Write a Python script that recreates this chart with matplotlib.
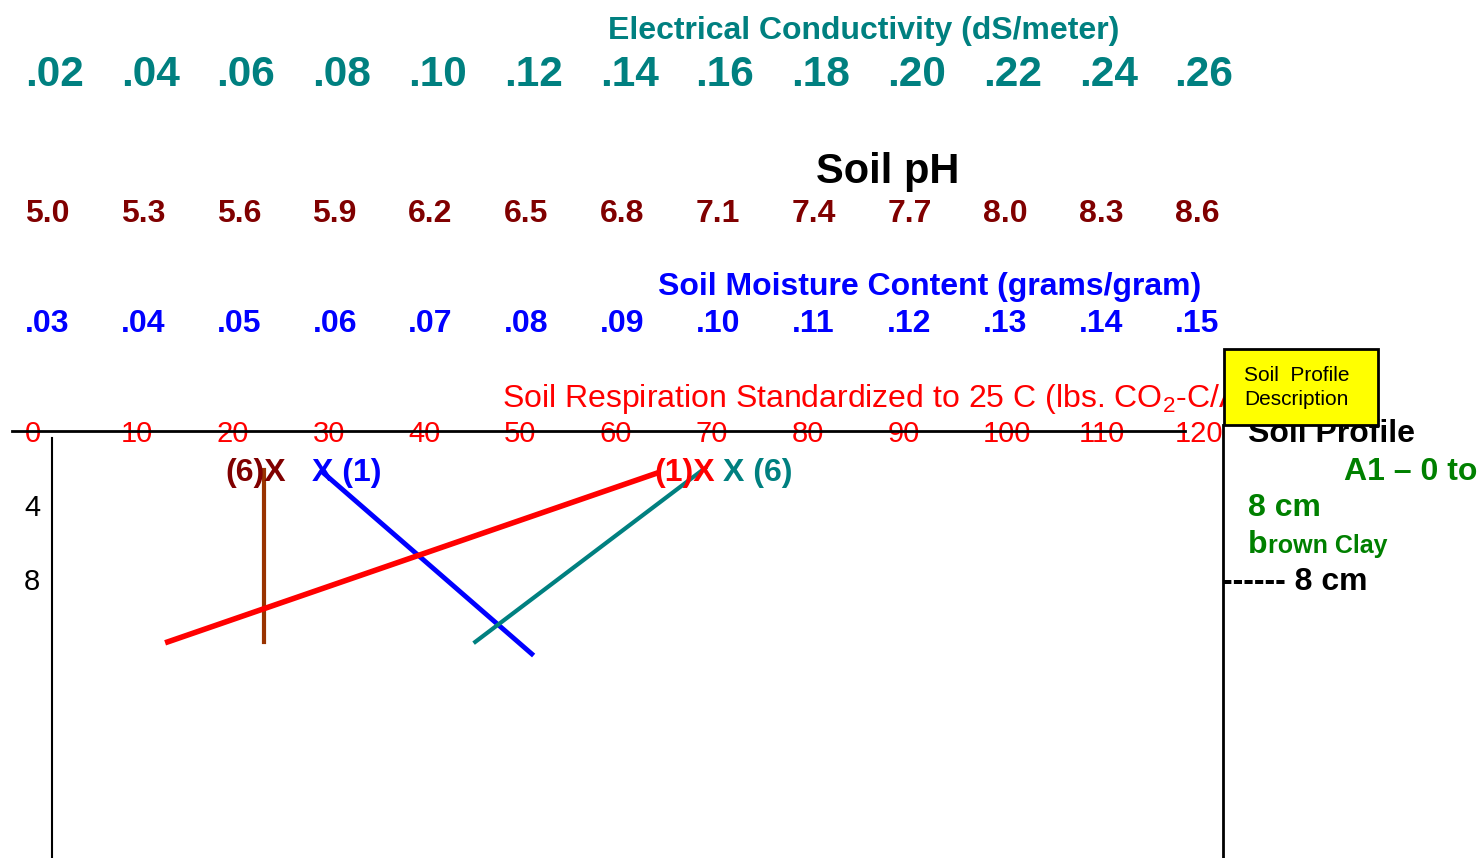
import matplotlib
matplotlib.use("Agg")
import matplotlib.pyplot as plt
from matplotlib.patches import Rectangle

plt.rcParams['mathtext.default'] = 'regular'

# ---------------- data ----------------
ec_ticks = [".02", ".04", ".06", ".08", ".10", ".12", ".14", ".16", ".18", ".20", ".22", ".24", ".26"]
ph_ticks = ["5.0", "5.3", "5.6", "5.9", "6.2", "6.5", "6.8", "7.1", "7.4", "7.7", "8.0", "8.3", "8.6"]
moist_ticks = [".03", ".04", ".05", ".06", ".07", ".08", ".09", ".10", ".11", ".12", ".13", ".14", ".15"]
resp_ticks = [0, 10, 20, 30, 40, 50, 60, 70, 80, 90, 100, 110, 120]
depth_ticks = [4, 8]

# scale definitions (start value, step per column)
ec_start, ec_step = 0.02, 0.02
ph_start, ph_step = 5.0, 0.3
moist_start, moist_step = 0.03, 0.01
resp_start, resp_step = 0.0, 10.0

# measured profiles: depth (cm) and values
ph_depth = [2.1, 11.4]
ph_vals = [5.75, 5.75]
moist_depth = [2.2, 12.05]
moist_vals = [0.0610, 0.0829]
ec_depth = [2.0, 11.4]
ec_vals = [0.162, 0.114]
resp_depth = [2.27, 11.4]
resp_vals = [66.0, 14.9]

# ---------------- layout helpers ----------------
W, H = 1480, 858
COL0, COLW = 25.0, 95.8     # pixel of column 0 and column width
DEP0, DEPS = 431.0, 18.5    # pixel of depth 0 and px per cm
DY = 3.5                    # vertical text centring correction (px)

def colx(px):
    return (px - COL0) / COLW

def depy(py):
    return (py - DEP0) / DEPS

def ty(py):
    return depy(py + DY)

def to_col(vals, start, step):
    return [(v - start) / step for v in vals]

NARROW = ['Liberation Sans Narrow', 'Arial Narrow', 'Liberation Sans']
SANS = ['Liberation Sans', 'DejaVu Sans']

TEAL = '#008080'
DARKRED = '#800000'
BLUE = '#0000FF'
RED = '#FF0000'
BROWN = '#993300'
GREEN = '#008000'

fig = plt.figure(figsize=(W / 100, H / 100), dpi=100)
ax = fig.add_axes([0, 0, 1, 1])
ax.set_xlim(colx(0), colx(W))
ax.set_ylim(depy(H), depy(0))
ax.axis('off')

# ---------------- scale headers ----------------
ax.text(colx(864), ty(27), "Electrical Conductivity (dS/meter)", color=TEAL,
        family=NARROW, weight='bold', fontsize=23, ha='center', va='center')
for i, t in enumerate(ec_ticks):
    ax.text(i, ty(71), t, color=TEAL, family=NARROW, weight='bold',
            fontsize=30.5, ha='left', va='center')

ax.text(colx(888), ty(168), "Soil pH", color='black', family=SANS, weight='bold',
        fontsize=30, ha='center', va='center')
for i, t in enumerate(ph_ticks):
    ax.text(i, ty(211), t, color=DARKRED, family=NARROW, weight='bold',
            fontsize=23, ha='left', va='center')

ax.text(colx(930), ty(284), "Soil Moisture Content (grams/gram)", color=BLUE,
        family=NARROW, weight='bold', fontsize=23, ha='center', va='center')
for i, t in enumerate(moist_ticks):
    ax.text(i, ty(321), t, color=BLUE, family=NARROW, weight='bold',
            fontsize=23, ha='left', va='center')

ax.text(colx(502), ty(395), "Soil Respiration Standardized to 25 C (lbs. CO$_2$-C/A/day)",
        color=RED, family=SANS, fontsize=23, ha='left', va='center', zorder=1)
for i, v in enumerate(resp_ticks):
    ax.text((v - resp_start) / resp_step, ty(431), str(v), color=RED, family=SANS,
            fontsize=21, ha='left', va='center', zorder=2)

# ---------------- axes frame ----------------
ax.plot([colx(12), colx(1185)], [0, 0], color='black', lw=2, zorder=3)
ax.plot([colx(52), colx(52)], [depy(438), depy(H)], color='black', lw=1.5, zorder=3)
ax.plot([colx(1223), colx(1223)], [depy(425), depy(H)], color='black', lw=2, zorder=3)
for d in depth_ticks:
    ax.text(colx(32), depy(DEP0 + d * DEPS + DY), str(d), color='black', family=SANS,
            fontsize=21, ha='center', va='center')

# ---------------- profiles ----------------
ax.plot(to_col(ph_vals, ph_start, ph_step), ph_depth, color=BROWN, lw=3, zorder=4)
ax.plot(to_col(moist_vals, moist_start, moist_step), moist_depth, color=BLUE, lw=3.5, zorder=4)
ax.plot(to_col(ec_vals, ec_start, ec_step), ec_depth, color=TEAL, lw=3, zorder=4)
ax.plot(to_col(resp_vals, resp_start, resp_step), resp_depth, color=RED, lw=4, zorder=4)

# sample labels
lab_kw = dict(family=NARROW, weight='bold', fontsize=23, ha='left', va='center', zorder=5)
ax.text(colx(225), ty(469), "(6)X", color=DARKRED, **lab_kw)
ax.text(colx(312), ty(469), "X (1)", color=BLUE, **lab_kw)
ax.text(colx(654), ty(469), "(1)X", color=RED, **lab_kw)
ax.text(colx(723), ty(469), "X (6)", color=TEAL, **lab_kw)

# ---------------- soil profile description ----------------
ax.text(colx(1248), ty(431), "Soil Profile", color='black', family=SANS, weight='bold',
        fontsize=23, ha='left', va='center', zorder=2)
box = Rectangle((colx(1224), depy(425)), colx(1378) - colx(1224), depy(349) - depy(425),
                facecolor='#FFFF00', edgecolor='black', lw=2, zorder=6)
ax.add_patch(box)
ax.text(colx(1244), ty(372), "Soil  Profile", color='black', family=SANS,
        fontsize=15, ha='left', va='center', zorder=7)
ax.text(colx(1244), ty(396), "Description", color='black', family=SANS,
        fontsize=15, ha='left', va='center', zorder=7)

ax.text(colx(1344), ty(469), "A1 \u2013 0 to", color=GREEN, family=SANS, weight='bold',
        fontsize=23, ha='left', va='center')
ax.text(colx(1248), ty(505), "8 cm", color=GREEN, family=SANS, weight='bold',
        fontsize=23, ha='left', va='center')
tb = ax.text(colx(1248), depy(553), "b", color=GREEN, family=SANS, weight='bold',
             fontsize=23, ha='left', va='baseline')
fig.canvas.draw()
bb = tb.get_window_extent()
xr = ax.transData.inverted().transform((bb.x1, bb.y0))[0]
ax.text(xr, depy(553), "rown Clay", color=GREEN, family=SANS, weight='bold',
        fontsize=18, ha='left', va='baseline')
ax.text(colx(1222), ty(579), "------ 8 cm", color='black', family=SANS, weight='bold',
        fontsize=23, ha='left', va='center')

fig.savefig("out.png", dpi=100)
